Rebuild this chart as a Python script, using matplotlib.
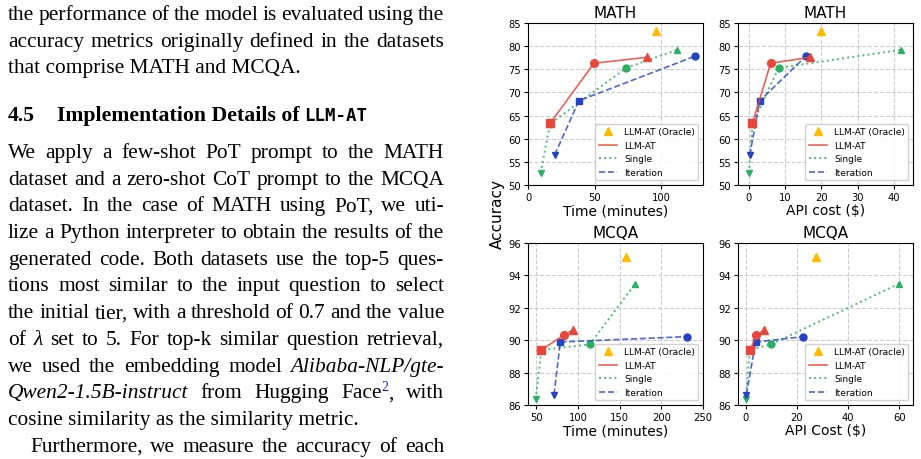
import numpy as np
import matplotlib
matplotlib.use('Agg')
import matplotlib.pyplot as plt

W, H = 921, 460

# marker per tier (tier 1..4)
tier_markers = ['v', 's', 'o', '^']

# ---- MATH, time (minutes)
mt_oracle = (96.2, 83.3)
mt_llmat_x = [16.8, 49.5, 89.5]
mt_llmat_y = [63.4, 76.3, 77.6]
mt_single_x = [9.5, 16.5, 73.8, 111.8]
mt_single_y = [52.6, 63.2, 75.3, 79.2]
mt_iter_x = [20.0, 38.2, 125.0]
mt_iter_y = [56.5, 68.2, 77.8]

# ---- MATH, API cost ($)
mc_oracle = (19.8, 83.3)
mc_llmat_x = [1.0, 6.0, 17.0]
mc_llmat_y = [63.4, 76.3, 77.6]
mc_single_x = [0.0, 1.0, 8.2, 41.9]
mc_single_y = [52.6, 63.2, 75.3, 79.2]
mc_iter_x = [0.25, 3.0, 15.7]
mc_iter_y = [56.5, 68.2, 77.8]

# ---- MCQA, time (minutes)
qt_oracle = (157.2, 95.16)
qt_llmat_x = [56.0, 83.2, 93.6]
qt_llmat_y = [89.40, 90.32, 90.63]
qt_single_x = [49.2, 56.0, 114.0, 168.4]
qt_single_y = [86.35, 89.40, 89.74, 93.47]
qt_iter_x = [71.2, 78.8, 230.4]
qt_iter_y = [86.64, 89.89, 90.22]

# ---- MCQA, API cost ($)
qc_oracle = (27.6, 95.16)
qc_llmat_x = [1.8, 4.2, 7.2]
qc_llmat_y = [89.40, 90.32, 90.63]
qc_single_x = [0.1, 1.6, 9.8, 59.8]
qc_single_y = [86.35, 89.40, 89.74, 93.47]
qc_iter_x = [0.26, 3.9, 22.6]
qc_iter_y = [86.64, 89.89, 90.22]

llmat_tiers = [1, 2, 3]
single_tiers = [0, 1, 2, 3]
iter_tiers = [0, 1, 2]

red, green, blue, gold = '#e8463a', '#2bb063', '#2342c4', '#ffbb00'

fig = plt.figure(figsize=(W / 100, H / 100), dpi=100, facecolor='w')


def px_axes(left, top, right, bottom):
    return fig.add_axes([left / W, 1 - bottom / H, (right - left) / W, (bottom - top) / H])


def panel(ax, oracle, lx, ly, sx, sy, ix, iy, title, xlabel, xlim, xticks, ylim, yticks):
    ax.plot(sx, sy, ls=':', color=green, lw=1.4, alpha=0.85, label='Single')
    for x, y, t in zip(sx, sy, single_tiers):
        ax.plot(x, y, marker=tier_markers[t], color=green, ms=5, ls='none')
    ax.plot(ix, iy, ls='--', color=blue, lw=1.2, alpha=0.8, label='Iteration')
    for x, y, t in zip(ix, iy, iter_tiers):
        ax.plot(x, y, marker=tier_markers[t], color=blue, ms=5, ls='none')
    ax.plot(lx, ly, ls='-', color=red, lw=1.2, alpha=0.85, label='LLM-AT')
    for x, y, t in zip(lx, ly, llmat_tiers):
        ax.plot(x, y, marker=tier_markers[t], color=red, ms=5.5, ls='none')
    ax.plot(*oracle, marker='^', color=gold, ms=5.5, ls='none', label='LLM-AT (Oracle)')

    h, l = ax.get_legend_handles_labels()
    order = [3, 2, 0, 1]
    ax.legend([h[i] for i in order], [l[i] for i in order], loc='lower right',
              fontsize=6.5, framealpha=0.9)
    ax.set_title(title, fontsize=11, pad=4)
    ax.set_xlabel(xlabel, fontsize=10, labelpad=1)
    ax.set(xlim=xlim, ylim=ylim, xticks=xticks, yticks=yticks)
    ax.tick_params(labelsize=7.2, length=3, pad=2)
    ax.grid(True, ls='--', color='#cccccc', lw=0.8)
    ax.set_axisbelow(True)


ax1 = px_axes(528, 24, 703, 186)
panel(ax1, mt_oracle, mt_llmat_x, mt_llmat_y, mt_single_x, mt_single_y, mt_iter_x, mt_iter_y,
      'MATH', 'Time (minutes)', (0, 131.3), [0, 50, 100], (50, 85), np.arange(50, 86, 5))
ax2 = px_axes(738, 24, 913, 186)
panel(ax2, mc_oracle, mc_llmat_x, mc_llmat_y, mc_single_x, mc_single_y, mc_iter_x, mc_iter_y,
      'MATH', r'API cost (\$)', (-3, 45.3), [0, 10, 20, 30, 40], (50, 85), np.arange(50, 86, 5))
ax3 = px_axes(528, 244, 703, 406)
panel(ax3, qt_oracle, qt_llmat_x, qt_llmat_y, qt_single_x, qt_single_y, qt_iter_x, qt_iter_y,
      'MCQA', 'Time (minutes)', (40, 250), [50, 100, 150, 200, 250], (86, 96), np.arange(86, 97, 2))
ax4 = px_axes(738, 244, 913, 406)
panel(ax4, qc_oracle, qc_llmat_x, qc_llmat_y, qc_single_x, qc_single_y, qc_iter_x, qc_iter_y,
      'MCQA', r'API Cost (\$)', (-3, 65.4), [0, 20, 40, 60], (86, 96), np.arange(86, 97, 2))

fig.text(497 / W, 1 - 214 / H, 'Accuracy', rotation=90, fontsize=11, ha='center', va='center')

# ---- paper text on the left
serif = 'Liberation Serif'
body = 15.4
renderer = fig.canvas.get_renderer()


def put(x, y, s, **kw):
    dy = kw.pop('dy', 0)
    kw.setdefault('family', serif)
    kw.setdefault('fontsize', body)
    return fig.text(x / W, 1 - (y - dy) / H, s, va='baseline', ha='left', **kw)


def wid(t):
    return t.get_window_extent(renderer).width


def draw_line(words, y, x0=8, x1=444):
    pieces, widths = [], []
    for w in words:
        segs = w if isinstance(w, list) else [(w, {})]
        texts = [put(0, y, s, **dict(kw)) for s, kw in segs]
        pieces.append(texts)
        widths.append(sum(wid(t) for t in texts))
    gap = (x1 - x0 - sum(widths)) / (len(words) - 1)
    x = x0
    for texts in pieces:
        for t in texts:
            t.set_x(x / W)
            x += wid(t)
        x += gap


ital = {'style': 'italic'}
sup = {'fontsize': 10, 'dy': 7, 'color': '#1a1acc'}

justified = [
    (20, 'the performance of the model is evaluated using the'.split()),
    (47, 'accuracy metrics originally defined in the datasets'.split()),
    (158, 'We apply a few-shot PoT prompt to the MATH'.split()),
    (184.7, 'dataset and a zero-shot CoT prompt to the MCQA'.split()),
    (211.4, 'dataset. In the case of MATH using PoT, we uti-'.split()),
    (238, 'lize a Python interpreter to obtain the results of the'.split()),
    (264.8, 'generated code. Both datasets use the top-5 ques-'.split()),
    (291.5, 'tions most similar to the input question to select'.split()),
    (318.2, 'the initial tier, with a threshold of 0.7 and the value'.split()),
    (344.9, ['of', [('\u03bb', ital)]] + 'set to 5. For top-k similar question retrieval,'.split()),
    (371.6, 'we used the embedding model'.split() + [[('Alibaba-NLP/gte-', ital)]]),
    (398.3, [[('Qwen2-1.5B-instruct', ital)], 'from', 'Hugging',
             [('Face', {}), ('2', sup), (',', {})], 'with']),
]
for y, words in justified:
    draw_line(words, y)

put(8, 73, 'that comprise MATH and MCQA.')
put(8, 425, 'cosine similarity as the similarity metric.')
draw_line('Furthermore, we measure the accuracy of each'.split(), 451.7, x0=30)

# section heading
put(8, 121, '4.5', weight='bold', fontsize=15.7)
t = put(57, 121, 'Implementation Details of', weight='bold', fontsize=15.7)
put(57 + wid(t) + 5, 121, 'LLM-AT', weight='bold', family='DejaVu Sans Mono', fontsize=12.5)

plt.savefig('out.png', dpi=100)
plt.close('all')
